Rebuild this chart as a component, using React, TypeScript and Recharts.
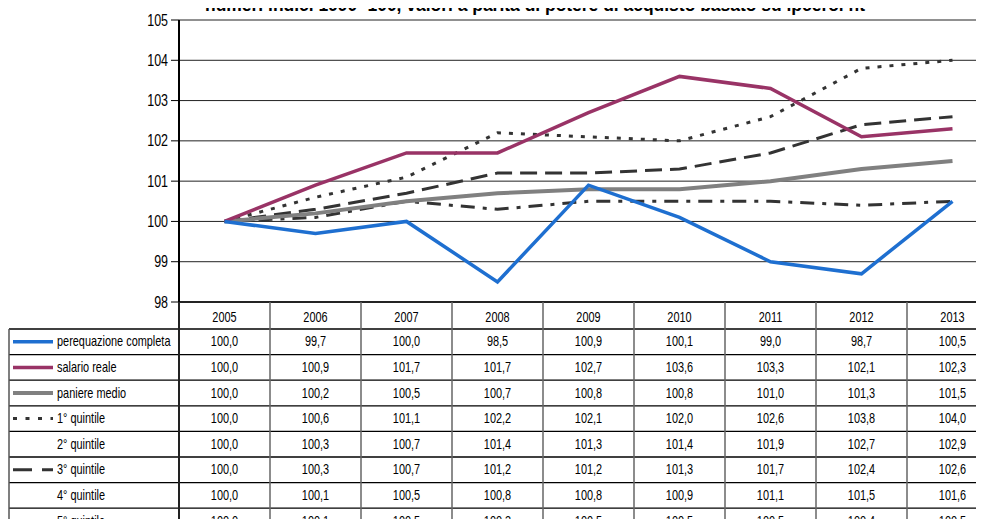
import { LineChart, Line, XAxis, YAxis, CartesianGrid } from 'recharts';

const years = ['2005', '2006', '2007', '2008', '2009', '2010', '2011', '2012', '2013'];
const perequazione = [100.0, 99.7, 100.0, 98.5, 100.9, 100.1, 99.0, 98.7, 100.5];
const salario = [100.0, 100.9, 101.7, 101.7, 102.7, 103.6, 103.3, 102.1, 102.3];
const paniere = [100.0, 100.2, 100.5, 100.7, 100.8, 100.8, 101.0, 101.3, 101.5];
const quintile1 = [100.0, 100.6, 101.1, 102.2, 102.1, 102.0, 102.6, 103.8, 104.0];
const quintile2 = [100.0, 100.3, 100.7, 101.4, 101.3, 101.4, 101.9, 102.7, 102.9];
const quintile3 = [100.0, 100.3, 100.7, 101.2, 101.2, 101.3, 101.7, 102.4, 102.6];
const quintile4 = [100.0, 100.1, 100.5, 100.8, 100.8, 100.9, 101.1, 101.5, 101.6];
const quintile5 = [100.0, 100.1, 100.5, 100.3, 100.5, 100.5, 100.5, 100.4, 100.5];
const yTicks = [98, 99, 100, 101, 102, 103, 104, 105];

const title = 'numeri indici 1990=100, valori a parità di potere di acquisto basato su ipcerol nt';

// table rows, in table order; q2 and q4 have no line in the chart
const series = [
  { key: 'pc', name: 'perequazione completa', values: perequazione, color: '#1e6fd0', width: 3.5, dash: undefined, legendDash: undefined, drawn: true },
  { key: 'sr', name: 'salario reale', values: salario, color: '#993366', width: 3.5, dash: undefined, legendDash: undefined, drawn: true },
  { key: 'pm', name: 'paniere medio', values: paniere, color: '#808080', width: 4, dash: undefined, legendDash: undefined, drawn: true },
  { key: 'q1', name: '1° quintile', values: quintile1, color: '#333333', width: 3, dash: '4 8', legendDash: '4 8.5', drawn: true },
  { key: 'q2', name: '2° quintile', values: quintile2, color: 'none', width: 0, dash: undefined, legendDash: undefined, drawn: false },
  { key: 'q3', name: '3° quintile', values: quintile3, color: '#333333', width: 3, dash: '17 8', legendDash: '19 10', drawn: true },
  { key: 'q4', name: '4° quintile', values: quintile4, color: 'none', width: 0, dash: undefined, legendDash: undefined, drawn: false },
  { key: 'q5', name: '5° quintile', values: quintile5, color: '#333333', width: 3, dash: '14 8 4 8', legendDash: '19 10 7 10', drawn: true },
];

const data = years.map((year, i) => {
  const row: Record<string, string | number> = { year };
  series.forEach((s) => { row[s.key] = s.values[i]; });
  return row;
});

const FONT = '"Liberation Sans", Arial, sans-serif';
const NARROW = 0.78; // no narrow font installed, squeeze horizontally
const PLOT_L = 179;
const PLOT_R = 998;
const PLOT_T = 20;
const PLOT_B = 302;
const COL_W = (PLOT_R - PLOT_L) / years.length;
const HEADER_H = 27;
const ROW_H = 25.6;
const TABLE_L = 9;

const fmt = (v: number) => v.toFixed(1).replace('.', ',');

function NText({ x, y, anchor = 'start', size = 14, children }: { x: number; y: number; anchor?: string; size?: number; children: any }) {
  return (
    <text transform={`translate(${x},${y}) scale(${NARROW},1)`} textAnchor={anchor as any}
      fontFamily={FONT} fontSize={size} fill="#000">{children}</text>
  );
}

function YTick(props: any) {
  const { x, y, payload } = props;
  return <NText x={x} y={y + 5.5} anchor="end" size={16}>{payload.value}</NText>;
}

function DataTable() {
  const rowTop = PLOT_B + HEADER_H;
  return (
    <svg width={984} height={527} style={{ position: 'absolute', left: 0, top: 0 }}>
      <line x1={PLOT_L} x2={PLOT_R} y1={PLOT_B} y2={PLOT_B} stroke="#000" strokeWidth={1.3} />
      {series.map((s, k) => (
        <line key={'h' + k} x1={TABLE_L} x2={PLOT_R} y1={rowTop + k * ROW_H} y2={rowTop + k * ROW_H} stroke="#000" strokeWidth={1.3} />
      ))}
      <line x1={TABLE_L} x2={TABLE_L} y1={rowTop} y2={527} stroke="#555" strokeWidth={1.5} />
      {years.map((_, i) => (
        <line key={'v' + i} x1={PLOT_L + i * COL_W} x2={PLOT_L + i * COL_W} y1={PLOT_B} y2={527}
          stroke={i === 0 ? '#222' : '#666'} strokeWidth={i === 0 ? 2 : 1.5} />
      ))}
      {years.map((y, i) => (
        <NText key={'y' + i} x={PLOT_L + (i + 0.5) * COL_W} y={PLOT_B + 20} anchor="middle">{y}</NText>
      ))}
      {series.map((s, k) => {
        const cy = rowTop + (k + 0.5) * ROW_H;
        return (
          <g key={'r' + k}>
            {s.drawn && (
              <line x1={13} x2={53} y1={cy} y2={cy} stroke={s.color} strokeWidth={s.width} strokeDasharray={s.legendDash} />
            )}
            <NText x={57} y={cy + 4.5}>{s.name}</NText>
            {s.values.map((v, i) => (
              <NText key={i} x={PLOT_L + (i + 0.5) * COL_W} y={cy + 4.5} anchor="middle">{fmt(v)}</NText>
            ))}
          </g>
        );
      })}
      <text x={205} y={11} textLength={660} lengthAdjust="spacingAndGlyphs" fontFamily={FONT}
        fontWeight="bold" fontSize={19} fill="#000">{title}</text>
    </svg>
  );
}

export default function App() {
  const drawOrder = ['q5', 'q3', 'q1', 'pm', 'sr', 'pc'];
  return (
    <div style={{ position: 'relative', width: 984, height: 527, overflow: 'hidden', margin: -8, background: '#fff' }}>
      <div style={{ position: 'absolute', left: 0, top: 0 }}>
        <LineChart width={PLOT_R + 2} height={PLOT_B + 8} data={data}
          margin={{ top: PLOT_T, right: 2, left: 0, bottom: 8 }}>
          <CartesianGrid horizontal vertical={false} stroke="#222" strokeWidth={1} />
          <XAxis dataKey="year" hide padding={{ left: COL_W / 2, right: COL_W / 2 }} />
          <YAxis width={PLOT_L} domain={[98, 105]} ticks={yTicks} interval={0} tickSize={8} tickMargin={3}
            axisLine={{ stroke: '#000', strokeWidth: 2 }} tickLine={{ stroke: '#000' }} tick={<YTick />} />
          {drawOrder.map((k) => {
            const s = series.find((x) => x.key === k)!;
            return (
              <Line key={k} type="linear" dataKey={k} name={s.name} stroke={s.color} strokeWidth={s.width}
                strokeDasharray={s.dash} dot={false} activeDot={false} isAnimationActive={false} />
            );
          })}
        </LineChart>
      </div>
      <DataTable />
    </div>
  );
}
